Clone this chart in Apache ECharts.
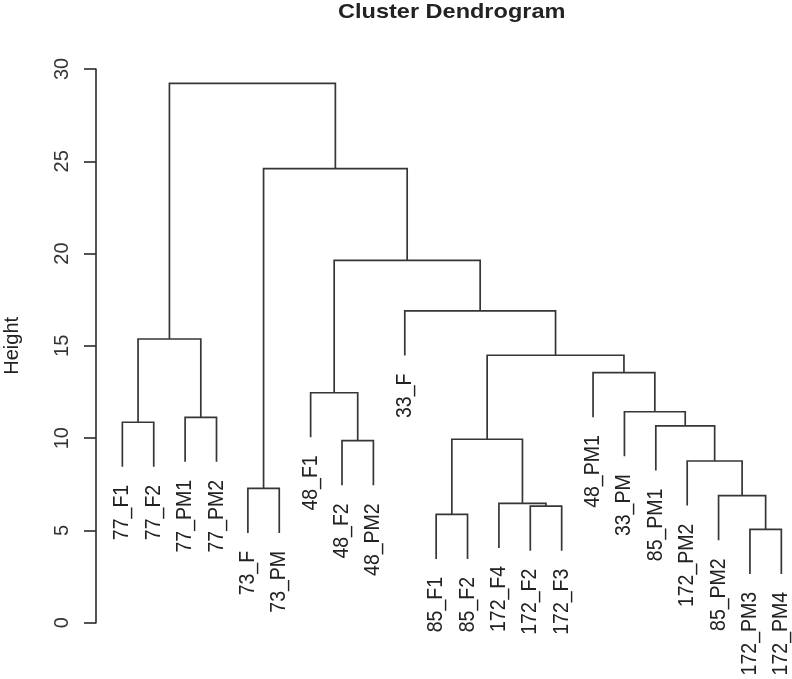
<!DOCTYPE html>
<html>
<head>
<meta charset="utf-8">
<script src="https://cdn.jsdelivr.net/npm/echarts@6/dist/echarts.min.js"></script>
<style>html,body{margin:0;padding:0;background:#fff}#c{width:792px;height:679px}</style>
</head>
<body>
<div id="c"></div>
<script>
// Leaf labels in plotting order (left to right)
const leafLabels = ['77_F1','77_F2','77_PM1','77_PM2','73_F','73_PM','48_F1','48_F2','48_PM2','33_F',
  '85_F1','85_F2','172_F4','172_F2','172_F3','48_PM1','33_PM','85_PM1','172_PM2','85_PM2','172_PM3','172_PM4'];
// hclust-style merges: negative = leaf number (1-based), positive = earlier merge number
const mergeLeft   = [-21, -11, -14, -13, -20, -5, -19, -8, 2, -18, -1, -3, -17, -7, -16, 9, 11, -10, 14, 6, 17];
const mergeRight  = [-22, -12, -15,   3,   1, -6,   5, -9, 4,   7, -2, -4,  10,  8,  13, 15, 12, 16, 18, 19, 20];
const mergeHeight = [5.06, 5.87, 6.32, 6.47, 6.88, 7.28, 8.76, 9.86, 9.94, 10.66, 10.86, 11.13, 11.43, 12.46, 13.55, 14.49, 15.37, 16.89, 19.63, 24.6, 29.22];
// y-axis ticks
const yTicks = [0, 5, 10, 15, 20, 25, 30];

const titleText = 'Cluster Dendrogram';
const yName = 'Height';

// layout of the tree (as R's plot.hclust does)
const hang = 0.1 * (Math.max(...mergeHeight) - Math.min(...mergeHeight));
const mergeX = [];
function nodeX(id) { return id < 0 ? -id : mergeX[id - 1]; }
for (let i = 0; i < mergeLeft.length; i++) {
  mergeX.push((nodeX(mergeLeft[i]) + nodeX(mergeRight[i])) / 2);
}
const leafBottom = new Array(leafLabels.length).fill(0);
const segData = [];
for (let i = 0; i < mergeLeft.length; i++) {
  const h = mergeHeight[i];
  const l = mergeLeft[i], r = mergeRight[i];
  const yl = l < 0 ? h - hang : mergeHeight[l - 1];
  const yr = r < 0 ? h - hang : mergeHeight[r - 1];
  if (l < 0) leafBottom[-l - 1] = yl;
  if (r < 0) leafBottom[-r - 1] = yr;
  segData.push([nodeX(l), yl, nodeX(r), yr, h]);
}
const leafData = leafLabels.map((name, i) => [i + 1, leafBottom[i], name]);

const lineColor = '#363636';
const textColor = '#222';

const chart = echarts.init(document.getElementById('c'), null, {renderer: 'canvas'});
chart.setOption({
  backgroundColor: '#fff',
  animation: false,
  graphic: [{
    type: 'text',
    x: 451.7, y: 12,
    scaleX: 1.12,
    style: {
      text: titleText,
      font: 'bold 21px "Liberation Sans", Arial, sans-serif',
      fill: textColor,
      align: 'center',
      verticalAlign: 'middle'
    }
  }],
  grid: {left: 96, right: 0, top: 69, bottom: 56.3, containLabel: false, outerBoundsMode: 'none'},
  xAxis: {type: 'value', min: 0.16, max: 22.34, show: false},
  yAxis: {
    type: 'value', min: yTicks[0], max: yTicks[yTicks.length - 1], interval: 5,
    name: yName, nameLocation: 'middle', nameRotate: 90, nameGap: 74,
    nameTextStyle: {fontSize: 20, color: textColor, fontFamily: '"Liberation Sans", Arial, sans-serif'},
    axisLine: {show: true, lineStyle: {color: lineColor, width: 1.7}},
    axisTick: {show: true, length: 12, lineStyle: {color: lineColor, width: 1.7}},
    axisLabel: {rotate: 90, margin: 24, fontSize: 20, color: '#333', fontFamily: '"Liberation Sans", Arial, sans-serif'},
    splitLine: {show: false}
  },
  series: [{
    type: 'custom',
    coordinateSystem: 'cartesian2d',
    clip: false,
    data: segData,
    encode: {x: [0, 2], y: [1, 3, 4]},
    renderItem: function (params, api) {
      const p1 = api.coord([api.value(0), api.value(1)]);
      const p2 = api.coord([api.value(0), api.value(4)]);
      const p3 = api.coord([api.value(2), api.value(4)]);
      const p4 = api.coord([api.value(2), api.value(3)]);
      return {
        type: 'polyline',
        shape: {points: [p1, p2, p3, p4]},
        style: {stroke: lineColor, lineWidth: 1.7, fill: null}
      };
    }
  }, {
    type: 'custom',
    coordinateSystem: 'cartesian2d',
    clip: false,
    data: leafData,
    encode: {x: 0, y: 1},
    renderItem: function (params, api) {
      const p = api.coord([api.value(0), api.value(1)]);
      return {
        type: 'text',
        x: p[0], y: p[1] + 18,
        rotation: Math.PI / 2,
        scaleY: 1.12,
        style: {
          text: leafData[params.dataIndex][2],
          font: '19.5px "Liberation Sans", Arial, sans-serif',
          fill: textColor,
          align: 'right',
          verticalAlign: 'middle'
        }
      };
    }
  }]
});
</script>
</body>
</html>
